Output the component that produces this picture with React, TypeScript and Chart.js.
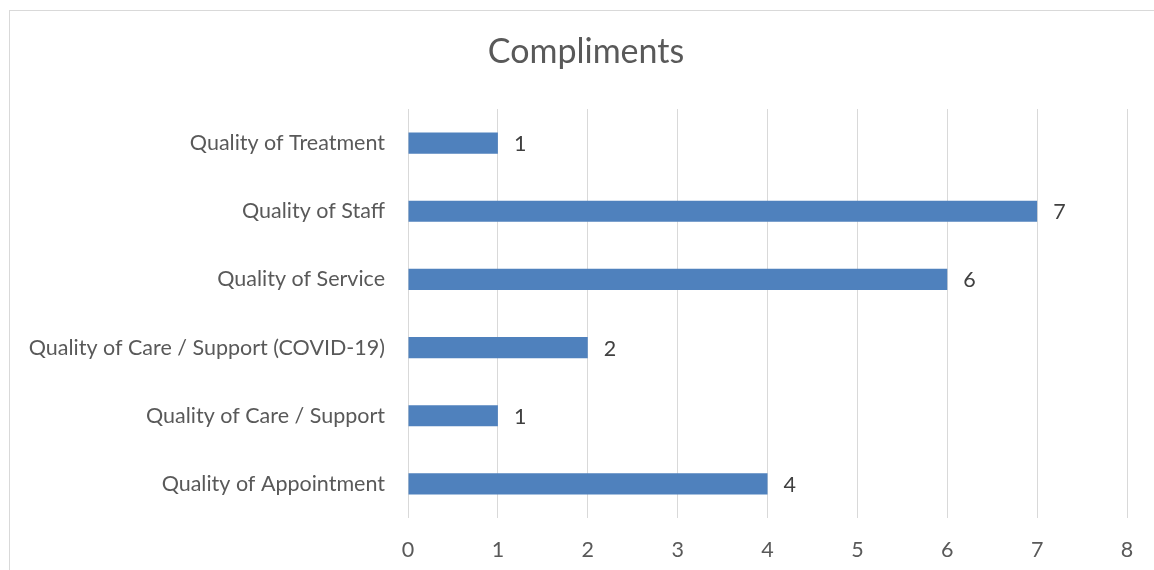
import React, { useEffect, useRef } from "react";
import { Chart, registerables } from "chart.js";

Chart.register(...registerables);

const titleText = "Compliments";
const categories = [
  "Quality of Treatment",
  "Quality of Staff",
  "Quality of Service",
  "Quality of Care / Support (COVID-19)",
  "Quality of Care / Support",
  "Quality of Appointment",
];
const compliments = [1, 7, 6, 2, 1, 4];
const xTicks = [0, 1, 2, 3, 4, 5, 6, 7, 8];

const FONT = "Lato, 'Open Sans', sans-serif";
const TEXT = "#595959";
const TICK_SIZE = 21.5;

const valueLabels = {
  id: "valueLabels",
  afterDatasetsDraw(chart: any) {
    const ctx = chart.ctx;
    const meta = chart.getDatasetMeta(0);
    ctx.save();
    ctx.font = `${TICK_SIZE}px ${FONT}`;
    ctx.fillStyle = "#404040";
    ctx.textAlign = "left";
    ctx.textBaseline = "middle";
    meta.data.forEach((bar: any, i: number) => {
      ctx.fillText(String(compliments[i]), bar.x + 16, bar.y + 1);
    });
    ctx.restore();
  },
};

const boxTitle = {
  id: "boxTitle",
  afterDraw(chart: any) {
    const ctx = chart.ctx;
    ctx.save();
    ctx.font = `34px ${FONT}`;
    ctx.fillStyle = TEXT;
    ctx.textAlign = "center";
    ctx.textBaseline = "alphabetic";
    ctx.fillText(titleText, 586, 63);
    ctx.restore();
  },
};

export default function App() {
  const ref = useRef<HTMLCanvasElement | null>(null);
  useEffect(() => {
    if (!ref.current) return;
    const chart = new Chart(ref.current, {
      type: "bar",
      data: {
        labels: categories,
        datasets: [
          {
            data: compliments,
            backgroundColor: "#4f81bd",
            borderWidth: 0,
            barPercentage: 0.31,
            categoryPercentage: 1,
          },
        ],
      },
      options: {
        indexAxis: "y",
        animation: false,
        responsive: false,
        maintainAspectRatio: false,
        layout: { padding: { left: 0, right: 27, top: 109, bottom: 0 } },
        plugins: {
          legend: { display: false },
          tooltip: { enabled: false },
          title: { display: false },
        },
        scales: {
          x: {
            min: 0,
            max: 8,
            afterBuildTicks: (scale: any) => {
              scale.ticks = xTicks.map((v) => ({ value: v }));
            },
            afterFit: (scale: any) => {
              scale.height = 52;
            },
            grid: { color: "#d9d9d9", lineWidth: 1, drawTicks: false },
            border: { display: false },
            ticks: {
              color: TEXT,
              font: { family: FONT, size: TICK_SIZE },
              padding: 19,
            },
          },
          y: {
            afterFit: (scale: any) => {
              scale.width = 408;
            },
            grid: { display: false, drawTicks: false },
            border: { display: false },
            ticks: {
              color: TEXT,
              font: { family: FONT, size: TICK_SIZE },
              padding: 23,
            },
          },
        },
      },
      plugins: [valueLabels, boxTitle],
    });
    return () => chart.destroy();
  }, []);

  return (
    <div
      style={{
        position: "fixed",
        left: 0,
        top: 0,
        width: 1154,
        height: 570,
        overflow: "hidden",
        background: "#fff",
      }}
    >
      <div
        style={{
          position: "absolute",
          left: 9,
          top: 10,
          width: 1200,
          height: 600,
          borderLeft: "1px solid #d9d9d9",
          borderTop: "1px solid #d9d9d9",
          boxSizing: "border-box",
        }}
      />
      <canvas
        ref={ref}
        width={1154}
        height={570}
        style={{ position: "absolute", left: 0, top: 0, width: 1154, height: 570 }}
      />
    </div>
  );
}
